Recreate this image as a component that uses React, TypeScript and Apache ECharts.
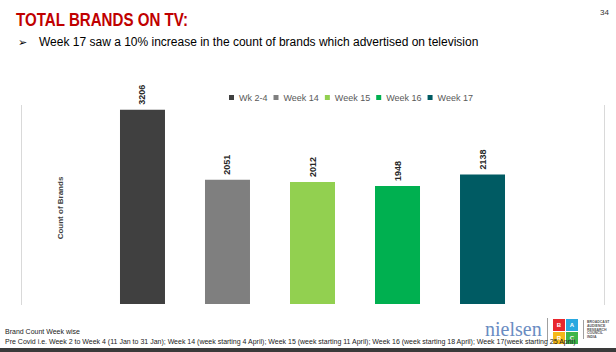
import React, { useEffect, useRef } from "react";
import * as echarts from "echarts";

const seriesNames = ["Wk 2-4", "Week 14", "Week 15", "Week 16", "Week 17"];
const brandCounts = [3206, 2051, 2012, 1948, 2138];
const barColors = ["#404040", "#7f7f7f", "#92d050", "#00b050", "#005b63"];
const categories = ["Brand Count"];

const titleText = "TOTAL BRANDS ON TV:";
const subtitleText = "Week 17 saw a 10% increase in the count of brands which advertised on television";
const footLine1 = "Brand Count Week wise";
const footLine2 =
  "Pre Covid i.e. Week 2 to Week 4 (11 Jan to 31 Jan); Week 14 (week starting 4 April); Week 15 (week starting 11 April); Week 16 (week starting 18 April); Week 17(week starting 25 April)";

const SANS = "'Liberation Sans', Arial, sans-serif";

export default function App() {
  const ref = useRef<HTMLDivElement>(null);
  useEffect(() => {
    if (!ref.current) return;
    const chart = echarts.init(ref.current, undefined, { renderer: "svg" });
    const series = seriesNames.map((name, i) => ({
      name,
      type: "bar",
      data: [brandCounts[i]],
      barWidth: 45,
      barGap: "88.9%",
      itemStyle: { color: barColors[i] },
      label: {
        show: true,
        position: "top",
        rotate: 90,
        align: "left",
        verticalAlign: "middle",
        distance: 5,
        fontSize: 9,
        fontWeight: "bold",
        fontFamily: SANS,
        color: "#262626",
      },
    }));
    chart.setOption({
      animation: false,
      backgroundColor: "#ffffff",
      grid: { left: 21, right: 12, top: 104, bottom: 48, containLabel: false },
      legend: {
        data: seriesNames,
        left: 224,
        top: 88,
        itemWidth: 5,
        itemHeight: 5,
        itemGap: 6,
        icon: "rect",
        textStyle: { fontSize: 9, color: "#595959", fontFamily: SANS },
      },
      xAxis: {
        type: "category",
        data: categories,
        show: false,
      },
      yAxis: {
        type: "value",
        min: 0,
        max: 3300,
        show: false,
      },
      series,
      graphic: [
        { type: "line", shape: { x1: 21.5, y1: 105, x2: 21.5, y2: 305 }, style: { stroke: "#d9d9d9", lineWidth: 1 } },
        { type: "line", shape: { x1: 604.5, y1: 105, x2: 604.5, y2: 305 }, style: { stroke: "#d9d9d9", lineWidth: 1 } },
        {
          type: "text",
          x: 16,
          y: 20.5,
          scaleX: 0.84,
          style: {
            text: titleText,
            fill: "#c00000",
            fontSize: 18,
            fontWeight: "bold",
            fontFamily: SANS,
            verticalAlign: "middle",
          },
        },
        {
          type: "text",
          x: 18,
          y: 42,
          style: { text: "\u27A2", fill: "#000", fontSize: 11, fontFamily: "'DejaVu Sans', sans-serif", verticalAlign: "middle" },
        },
        {
          type: "text",
          x: 39,
          y: 42,
          style: { text: subtitleText, fill: "#000", fontSize: 12, fontFamily: SANS, verticalAlign: "middle" },
        },
        {
          type: "text",
          x: 609,
          y: 12,
          style: { text: "34", fill: "#333", fontSize: 8, fontFamily: SANS, align: "right", verticalAlign: "middle" },
        },
        {
          type: "text",
          x: 60,
          y: 208,
          rotation: Math.PI / 2,
          style: {
            text: "Count of Brands",
            fill: "#404040",
            fontSize: 8,
            fontWeight: "bold",
            fontFamily: SANS,
            align: "center",
            verticalAlign: "middle",
          },
        },
        {
          type: "text",
          x: 5,
          y: 331,
          style: { text: footLine1, fill: "#222", fontSize: 7, fontFamily: SANS, verticalAlign: "middle" },
        },
        // Nielsen logo
        {
          type: "text",
          x: 485,
          y: 329,
          style: {
            text: "nielsen",
            fill: "#6a8cc2",
            fontSize: 20,
            fontFamily: "'Liberation Serif', 'DejaVu Serif', serif",
            verticalAlign: "middle",
          },
        },
        { type: "line", shape: { x1: 547.5, y1: 318, x2: 547.5, y2: 341 }, style: { stroke: "#a0a0a0", lineWidth: 1 } },
        { type: "rect", shape: { x: 553, y: 319, width: 12, height: 12 }, style: { fill: "#e8262d" } },
        { type: "rect", shape: { x: 566, y: 319, width: 12, height: 12 }, style: { fill: "#29a8e0" } },
        { type: "rect", shape: { x: 553, y: 332, width: 12, height: 12 }, style: { fill: "#f5b819" } },
        { type: "rect", shape: { x: 566, y: 332, width: 12, height: 12 }, style: { fill: "#3cb54a" } },
        { type: "text", x: 559, y: 325, style: { text: "B", fill: "#fff", fontSize: 6, fontWeight: "bold", fontFamily: SANS, align: "center", verticalAlign: "middle" } },
        { type: "text", x: 572, y: 325, style: { text: "A", fill: "#fff", fontSize: 6, fontWeight: "bold", fontFamily: SANS, align: "center", verticalAlign: "middle" } },
        { type: "text", x: 559, y: 338, style: { text: "R", fill: "#fff", fontSize: 6, fontWeight: "bold", fontFamily: SANS, align: "center", verticalAlign: "middle" } },
        { type: "text", x: 572, y: 338, style: { text: "C", fill: "#fff", fontSize: 6, fontWeight: "bold", fontFamily: SANS, align: "center", verticalAlign: "middle" } },
        { type: "line", shape: { x1: 583.5, y1: 320, x2: 583.5, y2: 339 }, style: { stroke: "#a0a0a0", lineWidth: 1 } },
        {
          type: "text",
          x: 587,
          y: 320,
          style: {
            text: "BROADCAST\nAUDIENCE\nRESEARCH\nCOUNCIL\nINDIA",
            fill: "#555",
            fontSize: 3.5,
            lineHeight: 3.8,
            fontWeight: "bold",
            fontFamily: SANS,
            verticalAlign: "top",
          },
        },
        {
          type: "text",
          x: 5,
          y: 341,
          style: { text: footLine2, fill: "#222", fontSize: 7, fontFamily: SANS, verticalAlign: "middle" },
        },
        { type: "rect", shape: { x: 0, y: 348, width: 616, height: 4 }, style: { fill: "#3a3a3a" } },
      ],
    });
    return () => chart.dispose();
  }, []);
  return (
    <div
      ref={ref}
      style={{ position: "absolute", left: 0, top: 0, width: 616, height: 352 }}
    />
  );
}
